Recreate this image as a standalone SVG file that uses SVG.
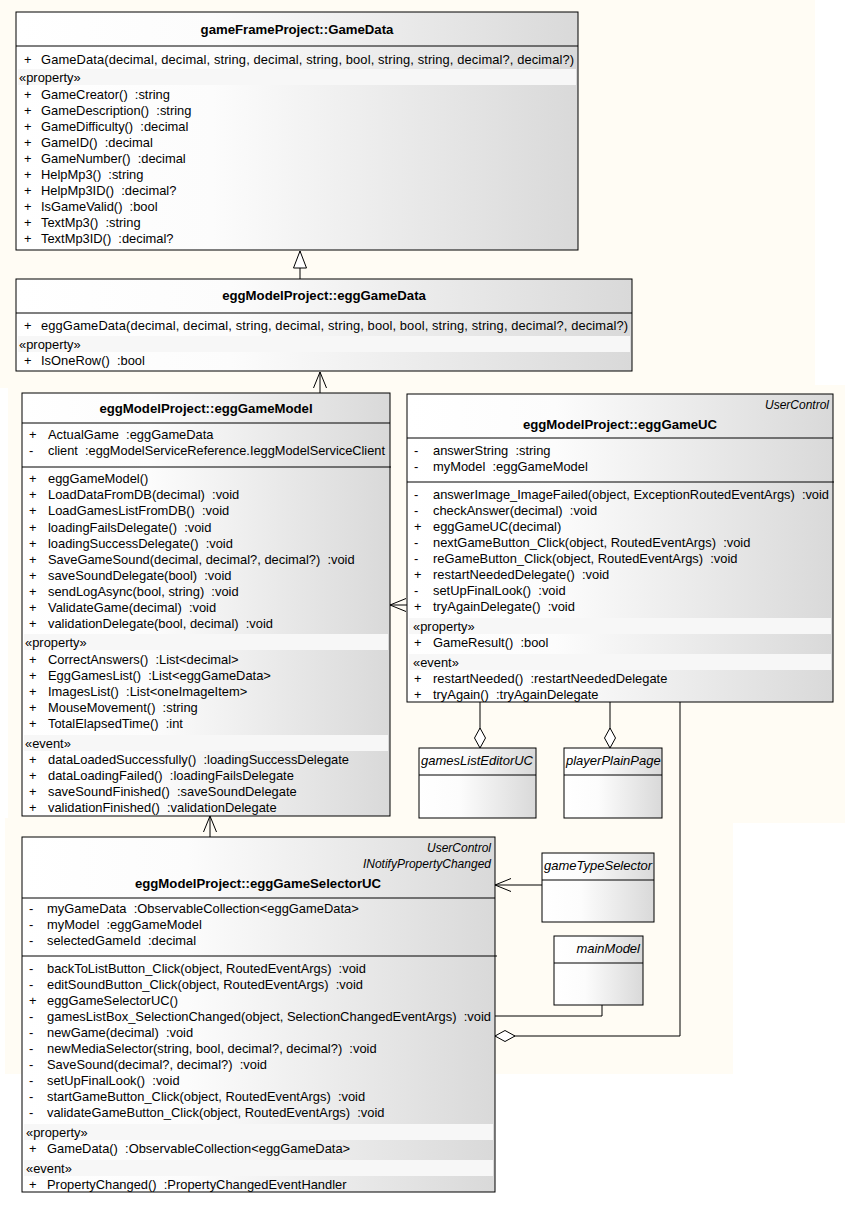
<svg xmlns="http://www.w3.org/2000/svg" width="849" height="1205" viewBox="0 0 849 1205">
<defs>
<linearGradient id="g" x1="0" y1="0" x2="1" y2="0">
<stop offset="0" stop-color="#ffffff"/>
<stop offset="0.35" stop-color="#fcfcfc"/>
<stop offset="1" stop-color="#d9d9d9"/>
</linearGradient>
<marker id="open" viewBox="0 0 20 20" refX="19" refY="10" markerWidth="20" markerHeight="20" markerUnits="userSpaceOnUse" orient="auto-start-reverse">
<path d="M3,3.5 L19,10 L3,16.5" fill="none" stroke="#000" stroke-width="1"/>
</marker>
<marker id="dia" viewBox="0 0 24 24" refX="23" refY="12" markerWidth="24" markerHeight="24" markerUnits="userSpaceOnUse" orient="auto-start-reverse">
<path d="M23,12 L13,6.5 L3,12 L13,17.5 Z" fill="#fff" stroke="#000" stroke-width="1"/>
</marker>
<marker id="tri" viewBox="0 0 20 20" refX="19" refY="10" markerWidth="20" markerHeight="20" markerUnits="userSpaceOnUse" orient="auto-start-reverse">
<path d="M19,10 L2,3.5 L2,16.5 Z" fill="#fff" stroke="#000" stroke-width="1"/>
</marker>
</defs>
<style>
.box{fill:url(#g);stroke:#000;stroke-width:1}
.sep{stroke:#000;stroke-width:1}
.band{fill:#f7f7f7;stroke:none}
text{font-family:"Liberation Sans",Arial,sans-serif;font-size:12.9px;fill:#000;white-space:pre}
.ti{font-weight:bold;text-anchor:middle;font-size:13.2px}
.it{font-style:italic;font-size:12px}
.it2{font-style:italic;font-size:13px}
.r{text-anchor:end}
.ln{fill:none;stroke:#000;stroke-width:1}
</style>
<rect x="0" y="0" width="849" height="1205" fill="#ffffff"/>
<rect x="0" y="0" width="815" height="388" fill="#fffcf4"/>
<rect x="8" y="385" width="837" height="438" fill="#fffcf4"/>
<rect x="5" y="818" width="728" height="256" fill="#fffcf4"/>
<g id="connectors">
<path class="ln" d="M300,279 L300,251" marker-end="url(#tri)"/>
<path class="ln" d="M320,393 L320,372" marker-end="url(#open)"/>
<path class="ln" d="M407,605 L390,605" marker-end="url(#open)"/>
<path class="ln" d="M480,748 L480,702" marker-start="url(#dia)"/>
<path class="ln" d="M610,748 L610,702" marker-start="url(#dia)"/>
<path class="ln" d="M495,1036 L680,1036 L680,702" marker-start="url(#dia)"/>
<path class="ln" d="M210,837 L210,816" marker-end="url(#open)"/>
<path class="ln" d="M542,885 L495,885" marker-end="url(#open)"/>
<path class="ln" d="M602,1005 L602,1016 L495,1016"/>
</g>
<g id="GameData">
<rect class="box" x="16" y="12" width="562" height="238"/>
<line class="sep" x1="16" y1="46" x2="578" y2="46"/>
<text class="ti" x="297" y="34">gameFrameProject::GameData</text>
<text x="24" y="64">+</text><text x="41" y="64" textLength="533" lengthAdjust="spacing">GameData(decimal, decimal, string, decimal, string, bool, string, string, decimal?, decimal?)</text>
<rect class="band" x="18" y="69" width="558" height="16"/>
<text x="19" y="82">«property»</text>
<text x="24" y="99">+</text><text x="41" y="99">GameCreator()  :string</text>
<text x="24" y="115">+</text><text x="41" y="115">GameDescription()  :string</text>
<text x="24" y="131">+</text><text x="41" y="131">GameDifficulty()  :decimal</text>
<text x="24" y="147">+</text><text x="41" y="147">GameID()  :decimal</text>
<text x="24" y="163">+</text><text x="41" y="163">GameNumber()  :decimal</text>
<text x="24" y="179">+</text><text x="41" y="179">HelpMp3()  :string</text>
<text x="24" y="195">+</text><text x="41" y="195">HelpMp3ID()  :decimal?</text>
<text x="24" y="211">+</text><text x="41" y="211">IsGameValid()  :bool</text>
<text x="24" y="227">+</text><text x="41" y="227">TextMp3()  :string</text>
<text x="24" y="243">+</text><text x="41" y="243">TextMp3ID()  :decimal?</text>
</g>
<g id="eggGameData">
<rect class="box" x="16" y="279" width="616" height="92"/>
<line class="sep" x1="16" y1="313" x2="632" y2="313"/>
<text class="ti" x="324" y="300">eggModelProject::eggGameData</text>
<text x="24" y="330">+</text><text x="41" y="330" textLength="587" lengthAdjust="spacing">eggGameData(decimal, decimal, string, decimal, string, bool, bool, string, string, decimal?, decimal?)</text>
<rect class="band" x="18" y="336" width="612" height="16"/>
<text x="19" y="349">«property»</text>
<text x="24" y="365">+</text><text x="41" y="365">IsOneRow()  :bool</text>
</g>
<g id="eggGameModel">
<rect class="box" x="22" y="393" width="368" height="423"/>
<line class="sep" x1="22" y1="423" x2="390" y2="423"/>
<text class="ti" x="206" y="413">eggModelProject::eggGameModel</text>
<text x="29" y="439">+</text><text x="48" y="439">ActualGame  :eggGameData</text>
<text x="29" y="455">-</text><text x="48" y="455" textLength="337" lengthAdjust="spacingAndGlyphs">client  :eggModelServiceReference.IeggModelServiceClient</text>
<line class="sep" x1="22" y1="467" x2="391" y2="467"/>
<text x="29" y="483">+</text><text x="48" y="483">eggGameModel()</text>
<text x="29" y="499">+</text><text x="48" y="499">LoadDataFromDB(decimal)  :void</text>
<text x="29" y="515">+</text><text x="48" y="515">LoadGamesListFromDB()  :void</text>
<text x="29" y="532">+</text><text x="48" y="532">loadingFailsDelegate()  :void</text>
<text x="29" y="548">+</text><text x="48" y="548">loadingSuccessDelegate()  :void</text>
<text x="29" y="564">+</text><text x="48" y="564">SaveGameSound(decimal, decimal?, decimal?)  :void</text>
<text x="29" y="580">+</text><text x="48" y="580">saveSoundDelegate(bool)  :void</text>
<text x="29" y="596">+</text><text x="48" y="596">sendLogAsync(bool, string)  :void</text>
<text x="29" y="612">+</text><text x="48" y="612">ValidateGame(decimal)  :void</text>
<text x="29" y="628">+</text><text x="48" y="628">validationDelegate(bool, decimal)  :void</text>
<rect class="band" x="24" y="634" width="364" height="16"/>
<text x="25" y="647">«property»</text>
<text x="29" y="664">+</text><text x="48" y="664">CorrectAnswers()  :List&lt;decimal&gt;</text>
<text x="29" y="680">+</text><text x="48" y="680">EggGamesList()  :List&lt;eggGameData&gt;</text>
<text x="29" y="696">+</text><text x="48" y="696">ImagesList()  :List&lt;oneImageItem&gt;</text>
<text x="29" y="712">+</text><text x="48" y="712">MouseMovement()  :string</text>
<text x="29" y="728">+</text><text x="48" y="728">TotalElapsedTime()  :int</text>
<rect class="band" x="24" y="735" width="364" height="16"/>
<text x="25" y="748">«event»</text>
<text x="29" y="764">+</text><text x="48" y="764">dataLoadedSuccessfully()  :loadingSuccessDelegate</text>
<text x="29" y="780">+</text><text x="48" y="780">dataLoadingFailed()  :loadingFailsDelegate</text>
<text x="29" y="796">+</text><text x="48" y="796">saveSoundFinished()  :saveSoundDelegate</text>
<text x="29" y="812">+</text><text x="48" y="812">validationFinished()  :validationDelegate</text>
</g>
<g id="eggGameUC">
<rect class="box" x="407" y="394" width="426" height="308"/>
<text class="it r" x="829" y="409">UserControl</text>
<text class="ti" x="620" y="429">eggModelProject::eggGameUC</text>
<line class="sep" x1="407" y1="438" x2="833" y2="438"/>
<text x="414" y="455">-</text><text x="433" y="455">answerString  :string</text>
<text x="414" y="471">-</text><text x="433" y="471">myModel  :eggGameModel</text>
<line class="sep" x1="407" y1="482" x2="834" y2="482"/>
<text x="414" y="499">-</text><text x="433" y="499" textLength="396" lengthAdjust="spacingAndGlyphs">answerImage_ImageFailed(object, ExceptionRoutedEventArgs)  :void</text>
<text x="414" y="515">-</text><text x="433" y="515">checkAnswer(decimal)  :void</text>
<text x="414" y="531">+</text><text x="433" y="531">eggGameUC(decimal)</text>
<text x="414" y="547">-</text><text x="433" y="547">nextGameButton_Click(object, RoutedEventArgs)  :void</text>
<text x="414" y="563">-</text><text x="433" y="563">reGameButton_Click(object, RoutedEventArgs)  :void</text>
<text x="414" y="579">+</text><text x="433" y="579">restartNeededDelegate()  :void</text>
<text x="414" y="595">-</text><text x="433" y="595">setUpFinalLook()  :void</text>
<text x="414" y="611">+</text><text x="433" y="611">tryAgainDelegate()  :void</text>
<rect class="band" x="409" y="618" width="422" height="16"/>
<text x="413" y="631">«property»</text>
<text x="414" y="647">+</text><text x="433" y="647">GameResult()  :bool</text>
<rect class="band" x="409" y="654" width="422" height="16"/>
<text x="413" y="667">«event»</text>
<text x="414" y="683">+</text><text x="433" y="683">restartNeeded()  :restartNeededDelegate</text>
<text x="414" y="699">+</text><text x="433" y="699">tryAgain()  :tryAgainDelegate</text>
</g>
<g id="gamesListEditorUC">
<rect class="box" x="419" y="748" width="117" height="70"/>
<line class="sep" x1="419" y1="775" x2="536" y2="775"/>
<text class="it2" x="421" y="765">gamesListEditorUC</text>
</g>
<g id="playerPlainPage">
<rect class="box" x="564" y="748" width="98" height="70"/>
<line class="sep" x1="564" y1="775" x2="662" y2="775"/>
<text class="it2" x="566" y="765">playerPlainPage</text>
</g>
<g id="eggGameSelectorUC">
<rect class="box" x="22" y="837" width="473" height="355"/>
<text class="it r" x="491" y="852">UserControl</text>
<text class="it r" x="491" y="868">INotifyPropertyChanged</text>
<text class="ti" x="258" y="888">eggModelProject::eggGameSelectorUC</text>
<line class="sep" x1="22" y1="898" x2="495" y2="898"/>
<text x="29" y="913">-</text><text x="47" y="913">myGameData  :ObservableCollection&lt;eggGameData&gt;</text>
<text x="29" y="929">-</text><text x="47" y="929">myModel  :eggGameModel</text>
<text x="29" y="945">-</text><text x="47" y="945">selectedGameId  :decimal</text>
<line class="sep" x1="22" y1="956" x2="497" y2="956"/>
<text x="29" y="973">-</text><text x="47" y="973">backToListButton_Click(object, RoutedEventArgs)  :void</text>
<text x="29" y="989">-</text><text x="47" y="989">editSoundButton_Click(object, RoutedEventArgs)  :void</text>
<text x="29" y="1005">+</text><text x="47" y="1005">eggGameSelectorUC()</text>
<text x="29" y="1021">-</text><text x="47" y="1021" textLength="444" lengthAdjust="spacingAndGlyphs">gamesListBox_SelectionChanged(object, SelectionChangedEventArgs)  :void</text>
<text x="29" y="1037">-</text><text x="47" y="1037">newGame(decimal)  :void</text>
<text x="29" y="1053">-</text><text x="47" y="1053">newMediaSelector(string, bool, decimal?, decimal?)  :void</text>
<text x="29" y="1069">-</text><text x="47" y="1069">SaveSound(decimal?, decimal?)  :void</text>
<text x="29" y="1085">-</text><text x="47" y="1085">setUpFinalLook()  :void</text>
<text x="29" y="1101">-</text><text x="47" y="1101">startGameButton_Click(object, RoutedEventArgs)  :void</text>
<text x="29" y="1117">-</text><text x="47" y="1117">validateGameButton_Click(object, RoutedEventArgs)  :void</text>
<rect class="band" x="24" y="1124" width="469" height="16"/>
<text x="26" y="1137">«property»</text>
<text x="29" y="1153">+</text><text x="47" y="1153">GameData()  :ObservableCollection&lt;eggGameData&gt;</text>
<rect class="band" x="24" y="1160" width="469" height="16"/>
<text x="26" y="1173">«event»</text>
<text x="29" y="1189">+</text><text x="47" y="1189">PropertyChanged()  :PropertyChangedEventHandler</text>
</g>
<g id="gameTypeSelector">
<rect class="box" x="542" y="853" width="112" height="69"/>
<line class="sep" x1="542" y1="880" x2="654" y2="880"/>
<text class="it2" x="544" y="870">gameTypeSelector</text>
</g>
<g id="mainModel">
<rect class="box" x="554" y="936" width="89" height="69"/>
<line class="sep" x1="554" y1="963" x2="643" y2="963"/>
<text class="it2 r" x="640" y="953">mainModel</text>
</g>
</svg>
